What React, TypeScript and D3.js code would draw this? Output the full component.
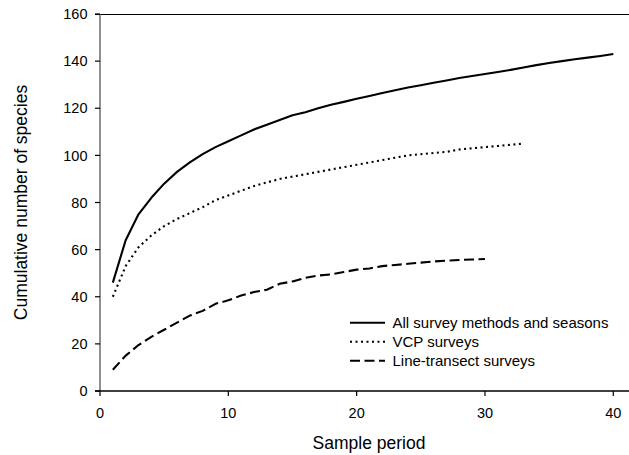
import React from "react";
import * as d3 from "d3";

const allPeriods = d3.range(1, 41);
const allSpecies = [46, 64, 75, 82, 88, 93, 97, 100.5, 103.5, 106, 108.5, 111, 113, 115, 117, 118.3, 120, 121.5, 122.7, 124, 125.2, 126.5, 127.6, 128.8, 129.8, 130.8, 131.8, 132.8, 133.7, 134.5, 135.4, 136.3, 137.3, 138.3, 139.2, 140, 140.8, 141.5, 142.2, 143];
const vcpPeriods = d3.range(1, 34);
const vcpSpecies = [40, 53, 61, 66, 70, 73, 75.5, 78, 81, 83, 85, 87, 88.5, 90, 91, 92, 93, 94, 95, 96, 97, 98, 99, 100, 100.5, 101, 101.5, 102.5, 103, 103.5, 104, 104.5, 105];
const ltPeriods = d3.range(1, 31);
const ltSpecies = [9, 15, 19.5, 23, 26, 29, 32, 34, 37, 38.5, 40.5, 42, 43, 45.5, 46.5, 48, 49, 49.5, 50.5, 51.5, 52, 53, 53.5, 54, 54.5, 55, 55.3, 55.6, 55.8, 56];
const xTicks = [0, 10, 20, 30, 40];
const yTicks = [0, 20, 40, 60, 80, 100, 120, 140, 160];
const seriesNames = ["All survey methods and seasons", "VCP surveys", "Line-transect surveys"];

const W = 629;
const H = 455;
const FONT = "'Liberation Sans', Arial, Helvetica, sans-serif";

export default function App() {
  const x = d3.scaleLinear().domain([0, 40]).range([100, 613.3]);
  const y = d3.scaleLinear().domain([0, 160]).range([391, 14]);
  const line = d3
    .line<[number, number]>()
    .x((d) => x(d[0]))
    .y((d) => y(d[1]));
  const mk = (xs: number[], ys: number[]) => xs.map((v, i) => [v, ys[i]] as [number, number]);
  const styles = [
    { dash: undefined as string | undefined },
    { dash: "2,3.5" },
    { dash: "10,4.5" },
  ];
  const series = [mk(allPeriods, allSpecies), mk(vcpPeriods, vcpSpecies), mk(ltPeriods, ltSpecies)];
  const legendY = [322.7, 341.7, 360.7];

  return (
    <svg
      width={W}
      height={H}
      style={{ position: "absolute", left: 0, top: 0, background: "#fff" }}
      fontFamily={FONT}
    >
      <rect x={0} y={0} width={W} height={H} fill="#fff" />
      <line x1={95} x2={W} y1={14.5} y2={14.5} stroke="#000" strokeWidth={1.2} />
      <line x1={100} x2={100} y1={14} y2={391} stroke="#555" strokeWidth={1.3} />
      {yTicks.map((t) => (
        <g key={"y" + t}>
          <line x1={95} x2={100} y1={y(t)} y2={y(t)} stroke="#000" strokeWidth={1.2} />
          <text x={87.5} y={y(t)} dy="0.36em" textAnchor="end" fontSize={14.5} fill="#000">
            {t}
          </text>
        </g>
      ))}
      <line x1={95} x2={W} y1={391} y2={391} stroke="#000" strokeWidth={1.3} />
      {xTicks.map((t) => (
        <g key={"x" + t}>
          <line x1={x(t)} x2={x(t)} y1={391} y2={396} stroke="#000" strokeWidth={1.2} />
          <text x={x(t)} y={418.3} textAnchor="middle" fontSize={14.5} fill="#000">
            {t}
          </text>
        </g>
      ))}
      <text x={369} y={449} textAnchor="middle" fontSize={17.5} fill="#000">
        Sample period
      </text>
      <text
        transform={`translate(26.5,202.5) rotate(-90)`}
        textAnchor="middle"
        fontSize={17.5}
        fill="#000"
      >
        Cumulative number of species
      </text>
      {series.map((s, i) => (
        <path
          key={"s" + i}
          d={line(s) || ""}
          fill="none"
          stroke="#000"
          strokeWidth={2.1}
          strokeDasharray={styles[i].dash}
          strokeLinejoin="round"
        />
      ))}
      {seriesNames.map((n, i) => (
        <g key={"l" + i}>
          <line
            x1={350}
            x2={385}
            y1={legendY[i]}
            y2={legendY[i]}
            stroke="#000"
            strokeWidth={2}
            strokeDasharray={styles[i].dash}
          />
          <text x={392.5} y={legendY[i]} dy="0.36em" fontSize={15} fill="#000">
            {n}
          </text>
        </g>
      ))}
    </svg>
  );
}
